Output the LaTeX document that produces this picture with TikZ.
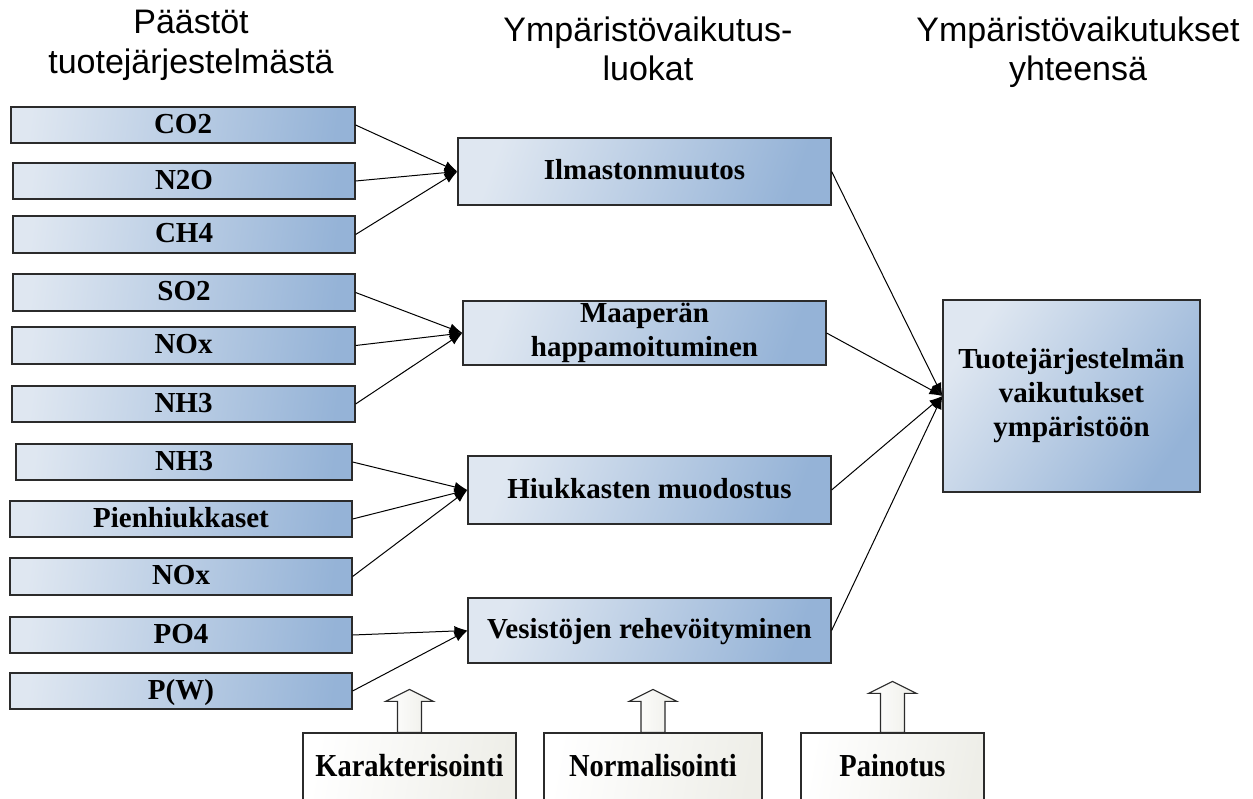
\documentclass[tikz,border=0pt]{standalone}
\usepackage{fontspec}
\setmainfont{Liberation Serif}
\newfontfamily\hdrfont{Liberation Sans}
\newfontfamily\condserif[FakeStretch=0.89]{Liberation Serif}
\usetikzlibrary{arrows.meta}
\definecolor{boxL}{HTML}{DFE7F1}
\definecolor{boxR}{HTML}{95B3D7}
\definecolor{edgecol}{HTML}{2B2B2B}
\definecolor{paleL}{HTML}{FFFFFF}
\definecolor{paleR}{HTML}{EEEEE8}
\begin{document}
\begin{tikzpicture}[x=1pt,y=-1pt,
  lbl/.style={font=\bfseries\fontsize{29}{34}\selectfont},
  hdr/.style={font=\hdrfont\fontsize{34}{40}\selectfont, anchor=base, inner sep=0pt},
  bluebox/.style={draw=edgecol, line width=1.2pt, left color=boxL, right color=boxR, shading angle=82, inner sep=0pt, lbl},
  oneline/.style={text height=20pt, text depth=4pt},
  srcbox/.style={bluebox, oneline, minimum height=36},
  catbox/.style={bluebox, shading angle=70},
  stepbox/.style={draw=edgecol, line width=1.2pt, left color=paleL, right color=paleR, shading angle=80, inner sep=0pt, minimum height=72, text height=19pt, text depth=5pt, font=\condserif\bfseries\fontsize{32}{36}\selectfont},
  hollow/.style={draw=edgecol, line width=1.1pt, left color=paleL, right color=paleR, line join=miter},
  conn/.style={draw=black, line width=1pt, -{Latex[length=13pt,width=10pt]}}
]
\useasboundingbox (0,0) rectangle (1253,798);
\clip (0,0) rectangle (1253,798);

% headers
\node[hdr] (h1a) at (191,33) {Päästöt};
\node[hdr] (h1b) at (191,73) {tuotejärjestelmästä};
\node[hdr] (h2a) at (648,41) {Ympäristövaikutus-};
\node[hdr] (h2b) at (648,80) {luokat};
\node[hdr] (h3a) at (1078,41) {Ympäristövaikutukset};
\node[hdr] (h3b) at (1078,80) {yhteensä};

% emission boxes
\node[srcbox, minimum width=344] (co2) at (183,125) {CO2};
\node[srcbox, minimum width=342] (n2o) at (184,181) {N2O};
\node[srcbox, minimum width=342, minimum height=37] (ch4) at (184,234.5) {CH4};
\node[srcbox, minimum width=342, minimum height=37] (so2) at (184,292.5) {SO2};
\node[srcbox, minimum width=343, minimum height=37] (nox) at (183.5,345.5) {NOx};
\node[srcbox, minimum width=343] (nh3) at (183.5,404) {NH3};
\node[srcbox, minimum width=336] (nh3b) at (184,462) {NH3};
\node[srcbox, minimum width=342] (pien) at (181,519) {Pienhiukkaset};
\node[srcbox, minimum width=342, minimum height=37] (noxb) at (181,576.5) {NOx};
\node[srcbox, minimum width=342] (po4) at (181,635) {PO4};
\node[srcbox, minimum width=342] (pw) at (181,691) {P(W)};

% impact categories
\node[catbox, oneline, minimum width=373, minimum height=67] (ilm) at (644.5,171.5) {Ilmastonmuutos};
\node[catbox, align=center, minimum width=363, minimum height=64] (maa) at (644.5,333) {Maaperän\\happamoituminen};
\node[catbox, oneline, minimum width=363, minimum height=68] (hiu) at (649.5,490) {Hiukkasten muodostus};
\node[catbox, oneline, minimum width=363, minimum height=65] (ves) at (649.5,630.5) {Vesistöjen rehevöityminen};

% total
\node[bluebox, shading angle=55, align=center, minimum width=257, minimum height=192] (tot) at (1071.5,396) {Tuotejärjestelmän\\vaikutukset\\ympäristöön};

% connectors
\draw[conn] (co2.east) -- (ilm.west);
\draw[conn] (n2o.east) -- (ilm.west);
\draw[conn] (ch4.east) -- (ilm.west);
\draw[conn] (so2.east) -- (maa.west);
\draw[conn] (nox.east) -- (maa.west);
\draw[conn] (nh3.east) -- (maa.west);
\draw[conn] (nh3b.east) -- (hiu.west);
\draw[conn] (pien.east) -- (hiu.west);
\draw[conn] (noxb.east) -- (hiu.west);
\draw[conn] (po4.east) -- (ves.west);
\draw[conn] (pw.east) -- (ves.west);
\draw[conn] (ilm.east) -- (tot.west);
\draw[conn] (maa.east) -- (tot.west);
\draw[conn] (hiu.east) -- (tot.west);
\draw[conn] (ves.east) -- (tot.west);

% method boxes
\node[stepbox, minimum width=213] (kar) at (409.5,769) {Karakterisointi};
\node[stepbox, minimum width=218] (nor) at (653,769) {Normalisointi};
\node[stepbox, minimum width=183] (pai) at (892.5,769) {Painotus};

% hollow up arrows
\draw[hollow] ([xshift=-12pt]kar.north) -- ++(0,-31) -- ++(-12,0) -- ++(24,-12) -- ++(24,12) -- ++(-12,0) -- ++(0,31) -- cycle;
\draw[hollow] ([xshift=-12pt]nor.north) -- ++(0,-31) -- ++(-12,0) -- ++(24,-12) -- ++(24,12) -- ++(-12,0) -- ++(0,31) -- cycle;
\draw[hollow] ([xshift=-12pt]pai.north) -- ++(0,-39) -- ++(-12,0) -- ++(24,-12) -- ++(24,12) -- ++(-12,0) -- ++(0,39) -- cycle;
\end{tikzpicture}
\end{document}
